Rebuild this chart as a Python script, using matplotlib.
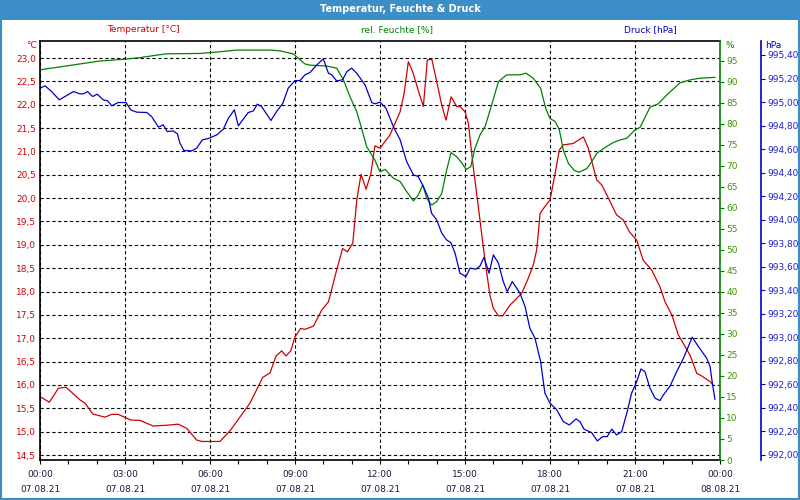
import matplotlib
matplotlib.use("Agg")
import matplotlib.pyplot as plt
from matplotlib.patches import Rectangle
from matplotlib.ticker import FixedLocator, MultipleLocator

# Zeit in Stunden ab 07.08.21 00:00
t_temp = [0.00, 0.33, 0.65, 0.92, 1.41, 1.59, 1.86, 2.29, 2.53, 2.76, 3.20, 3.53, 4.00, 4.53,
          4.88, 5.18, 5.53, 5.71, 6.35, 6.71, 7.41, 7.86, 8.12, 8.33, 8.53, 8.68, 8.85, 9.00,
          9.20, 9.35, 9.65, 9.94, 10.18, 10.47, 10.68, 10.85, 11.04, 11.18, 11.33, 11.51, 11.68,
          11.82, 12.00, 12.35, 12.71, 12.85, 13.00, 13.15, 13.35, 13.53, 13.67, 13.83, 13.94,
          14.18, 14.33, 14.51, 14.71, 14.82, 15.00, 15.12, 15.29, 15.47, 15.65, 15.77, 15.88,
          16.00, 16.18, 16.33, 16.59, 17.00, 17.23, 17.41, 17.53, 17.65, 17.82, 18.00, 18.18,
          18.33, 18.47, 18.82, 19.18, 19.35, 19.65, 19.83, 20.06, 20.35, 20.59, 20.80, 21.06,
          21.29, 21.59, 21.88, 22.06, 22.30, 22.53, 22.94, 23.18, 23.36, 23.65, 23.76]
temp = [15.75, 15.63, 15.93, 15.95, 15.68, 15.61, 15.38, 15.31, 15.37, 15.37, 15.25, 15.24, 15.12,
        15.14, 15.16, 15.07, 14.82, 14.79, 14.79, 15.02, 15.61, 16.16, 16.26, 16.62, 16.73, 16.62,
        16.73, 17.03, 17.21, 17.19, 17.26, 17.60, 17.78, 18.46, 18.92, 18.85, 19.04, 19.96, 20.51,
        20.19, 20.53, 21.12, 21.07, 21.35, 21.85, 22.24, 22.92, 22.71, 22.31, 21.96, 22.96, 22.97,
        22.67, 21.99, 21.67, 22.17, 21.96, 21.96, 21.85, 21.60, 20.67, 19.82, 18.93, 18.39, 17.92,
        17.64, 17.48, 17.48, 17.71, 17.96, 18.28, 18.57, 18.89, 19.67, 19.82, 19.96, 20.53, 21.03,
        21.14, 21.17, 21.31, 21.07, 20.39, 20.28, 20.00, 19.64, 19.53, 19.28, 19.10, 18.67, 18.46,
        18.10, 17.78, 17.50, 17.07, 16.64, 16.25, 16.19, 16.07, 16.00]

t_hum = [0.00, 0.71, 1.41, 2.12, 2.94, 3.53, 4.12, 4.47, 5.65, 6.35, 6.94, 8.12, 8.47, 8.94, 9.35,
         9.53, 10.12, 10.47, 10.71, 10.94, 11.18, 11.35, 11.53, 11.82, 12.00, 12.18, 12.47, 12.71,
         12.94, 13.18, 13.35, 13.51, 13.65, 13.82, 14.00, 14.18, 14.35, 14.51, 14.71, 14.88, 15.04,
         15.20, 15.35, 15.53, 15.71, 15.94, 16.18, 16.47, 16.94, 17.15, 17.41, 17.67, 17.85, 18.00,
         18.18, 18.33, 18.47, 18.65, 18.85, 19.02, 19.30, 19.47, 19.65, 19.94, 20.24, 20.47, 20.71,
         21.00, 21.18, 21.53, 21.82, 22.12, 22.59, 22.94, 23.29, 23.82]
hum = [92.9, 93.6, 94.3, 95.0, 95.4, 95.8, 96.4, 96.7, 96.8, 97.2, 97.6, 97.6, 97.4, 96.7, 94.3,
       94.0, 93.8, 93.3, 90.5, 86.5, 82.9, 79.0, 74.6, 71.4, 68.6, 69.2, 67.1, 66.3, 63.9, 61.7,
       63.1, 65.5, 62.3, 60.7, 61.5, 63.5, 69.0, 73.2, 72.2, 70.8, 69.2, 69.8, 74.2, 77.4, 79.4,
       84.5, 90.1, 91.7, 91.7, 92.1, 90.9, 88.5, 83.7, 81.3, 80.6, 78.6, 73.8, 70.6, 69.0, 68.5,
       69.4, 71.0, 73.0, 74.4, 75.6, 76.2, 76.6, 78.6, 79.2, 84.0, 84.8, 86.9, 89.8, 90.5, 90.9, 91.1]

t_druck = [0.00, 0.18, 0.41, 0.68, 0.88, 1.18, 1.41, 1.53, 1.68, 1.86, 2.02, 2.23, 2.39, 2.53, 2.76,
           3.04, 3.20, 3.41, 3.77, 3.94, 4.18, 4.35, 4.49, 4.70, 4.85, 4.94, 5.08, 5.35, 5.53, 5.73,
           5.94, 6.24, 6.47, 6.65, 6.86, 7.00, 7.35, 7.53, 7.67, 7.82, 7.94, 8.15, 8.35, 8.57, 8.76,
           9.00, 9.18, 9.35, 9.53, 9.77, 10.00, 10.18, 10.30, 10.47, 10.68, 10.83, 11.00, 11.18,
           11.47, 11.71, 11.82, 12.00, 12.21, 12.47, 12.71, 12.94, 13.18, 13.35, 13.53, 13.71, 13.82,
           14.00, 14.18, 14.35, 14.50, 14.65, 14.82, 15.03, 15.18, 15.39, 15.53, 15.67, 15.85, 16.00,
           16.18, 16.35, 16.49, 16.67, 16.94, 17.12, 17.29, 17.47, 17.67, 17.82, 18.00, 18.24, 18.47,
           18.68, 18.92, 19.06, 19.20, 19.47, 19.67, 19.86, 20.02, 20.18, 20.35, 20.53, 20.71, 20.88,
           21.06, 21.21, 21.35, 21.53, 21.71, 21.88, 22.00, 22.24, 22.47, 22.71, 22.88, 23.02, 23.24,
           23.53, 23.65, 23.73, 23.82]
druck = [995.118, 995.138, 995.089, 995.019, 995.047, 995.089, 995.070, 995.070, 995.089, 995.047,
         995.067, 995.019, 995.010, 994.968, 994.996, 994.996, 994.934, 994.914, 994.911, 994.877,
         994.787, 994.806, 994.749, 994.755, 994.730, 994.650, 994.588, 994.585, 994.608, 994.679,
         994.690, 994.721, 994.769, 994.863, 994.934, 994.798, 994.911, 994.925, 994.982, 994.962,
         994.919, 994.843, 994.919, 994.990, 995.118, 995.183, 995.183, 995.231, 995.251, 995.316,
         995.367, 995.245, 995.231, 995.180, 995.189, 995.259, 995.288, 995.245, 995.146, 994.996,
         994.985, 994.999, 994.948, 994.792, 994.679, 994.494, 994.381, 994.367, 994.282, 994.183,
         994.055, 993.998, 993.885, 993.828, 993.805, 993.715, 993.545, 993.516, 993.588, 993.579,
         993.607, 993.680, 993.545, 993.701, 993.630, 993.474, 993.389, 993.474, 993.375, 993.261,
         993.077, 992.992, 992.793, 992.525, 992.440, 992.383, 992.283, 992.255, 992.306, 992.283,
         992.219, 992.190, 992.119, 992.156, 992.156, 992.219, 992.170, 992.198, 992.355, 992.525,
         992.623, 992.731, 992.708, 992.567, 992.482, 992.462, 992.510, 992.587, 992.708, 992.822,
         992.921, 993.001, 992.921, 992.822, 992.751, 992.610, 992.474]

x_ticks = [0, 3, 6, 9, 12, 15, 18, 21, 24]
x_labels = ["00:00\n07.08.21", "03:00\n07.08.21", "06:00\n07.08.21", "09:00\n07.08.21",
            "12:00\n07.08.21", "15:00\n07.08.21", "18:00\n07.08.21", "21:00\n07.08.21",
            "00:00\n08.08.21"]
temp_ticks = [14.5, 15.0, 15.5, 16.0, 16.5, 17.0, 17.5, 18.0, 18.5, 19.0, 19.5, 20.0, 20.5,
              21.0, 21.5, 22.0, 22.5, 23.0]
hum_ticks = list(range(0, 100, 5))
druck_ticks = [992.0, 992.2, 992.4, 992.6, 992.8, 993.0, 993.2, 993.4, 993.6, 993.8, 994.0,
               994.2, 994.4, 994.6, 994.8, 995.0, 995.2, 995.4]

ROT = '#d00000'
GRUEN = '#008000'
BLAU = '#0000cc'
RAHMEN = '#3c8fc6'
FS = 6.5

plt.rcParams['font.family'] = ['DejaVu Sans']
fig = plt.figure(figsize=(8, 5), dpi=100)
fig.patch.set_facecolor('white')

# Titelleiste und Rahmen
fig.add_artist(Rectangle((0, 480 / 500), 1, 20 / 500, transform=fig.transFigure,
                         facecolor=RAHMEN, edgecolor='none'))
fig.add_artist(Rectangle((0, 0), 1, 1, transform=fig.transFigure, fill=False,
                         edgecolor=RAHMEN, linewidth=3))
fig.text(0.5, 1 - 9.5 / 500, "Temperatur, Feuchte & Druck", color='white', fontsize=7,
         fontweight='bold', ha='center', va='center')
fig.text(143 / 800, 1 - 30 / 500, "Temperatur [°C]", color=ROT, fontsize=FS, ha='center', va='center')
fig.text(397 / 800, 1 - 30 / 500, "rel. Feuchte [%]", color=GRUEN, fontsize=FS, ha='center', va='center')
fig.text(650 / 800, 1 - 30 / 500, "Druck [hPa]", color=BLAU, fontsize=FS, ha='center', va='center')
fig.text(37 / 800, 1 - 45 / 500, "°C", color=ROT, fontsize=FS, ha='right', va='center')
fig.text(725 / 800, 1 - 45 / 500, "%", color=GRUEN, fontsize=FS, ha='left', va='center')
fig.text(765 / 800, 1 - 45 / 500, "hPa", color=BLAU, fontsize=FS, ha='left', va='center')

ax = fig.add_axes([40 / 800, 40 / 500, 680 / 800, 419 / 500])
ax_h = ax.twinx()
ax_p = ax.twinx()

# Temperatur (linke Achse)
ax.set_xlim(0, 24)
ax.set_ylim(14.393, 23.364)
ax.set_yticks(temp_ticks)
ax.set_yticklabels([f"{v:.1f}".replace('.', ',') for v in temp_ticks])
ax.tick_params(axis='y', length=0, pad=3, labelcolor=ROT, labelsize=FS)
ax.set_xticks(x_ticks)
ax.set_xticklabels(x_labels, color='#1a1a40', fontsize=FS, linespacing=1.9)
ax.xaxis.set_minor_locator(MultipleLocator(1))
ax.tick_params(axis='x', which='both', length=3, width=0.8, direction='out', pad=4)
ax.grid(True, color='black', linestyle=(0, (3, 2.3)), linewidth=0.8)
for s in ['left', 'top', 'bottom']:
    ax.spines[s].set_color('black')
    ax.spines[s].set_linewidth(1.2)
ax.spines['right'].set_visible(False)
ax.plot(t_temp, temp, color=ROT, linewidth=0.9)

# Feuchte (rechte Achse)
ax_h.set_ylim(0, 99.76)
ax_h.yaxis.set_major_locator(FixedLocator(hum_ticks))
ax_h.tick_params(axis='y', length=3, width=0.8, color=GRUEN, labelcolor='#3c9a00',
                 labelsize=FS, pad=1.5)
ax_h.spines['right'].set_color(GRUEN)
ax_h.spines['right'].set_linewidth(1.2)
for s in ['left', 'top', 'bottom']:
    ax_h.spines[s].set_visible(False)
ax_h.plot(t_hum, hum, color=GRUEN, linewidth=0.9)

# Druck (zweite rechte Achse)
ax_p.spines['right'].set_position(('axes', 1 + 41 / 680))
ax_p.set_ylim(991.957, 995.519)
ax_p.set_yticks(druck_ticks)
ax_p.set_yticklabels([f"{v:.2f}".replace('.', ',') for v in druck_ticks])
ax_p.tick_params(axis='y', length=3, width=0.8, color=BLAU, labelcolor='#2020cc',
                 labelsize=FS, pad=1.5)
ax_p.spines['right'].set_color(BLAU)
ax_p.spines['right'].set_linewidth(1.2)
for s in ['left', 'top', 'bottom']:
    ax_p.spines[s].set_visible(False)
ax_p.plot(t_druck, druck, color=BLAU, linewidth=0.9)

fig.savefig("out.png", dpi=100)
